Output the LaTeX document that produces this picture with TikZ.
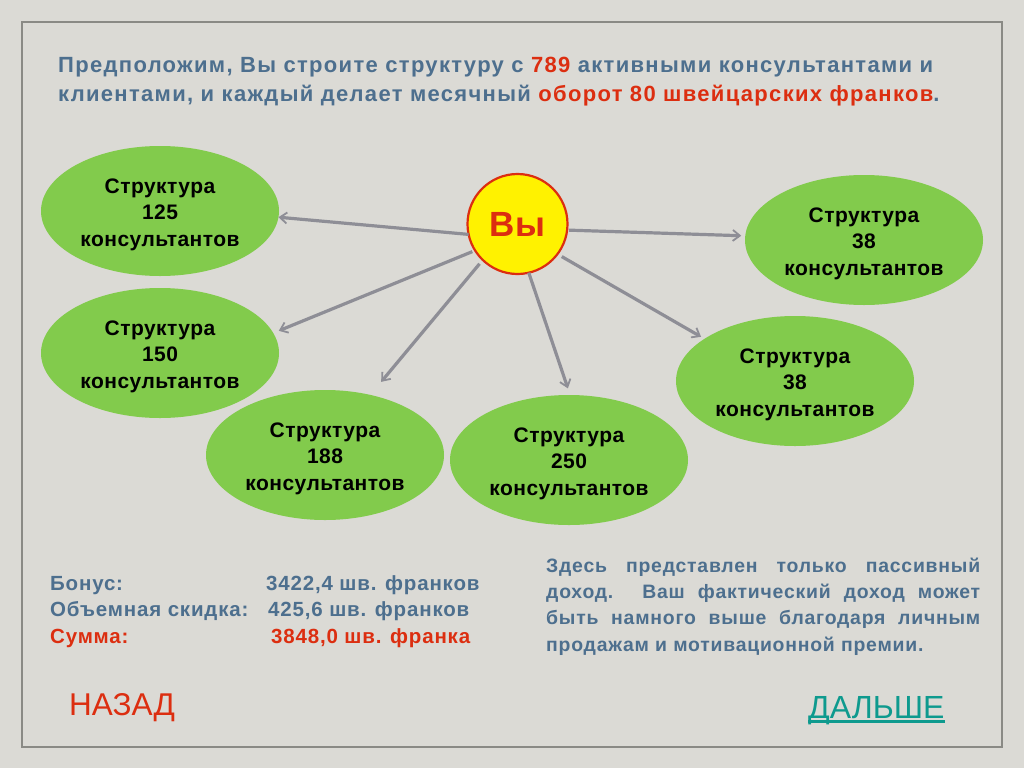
\documentclass[tikz,border=0pt]{standalone}
\usepackage{fontspec}
\setmainfont{Liberation Sans}
\newfontfamily\spaced[LetterSpace=6]{Liberation Sans}
\newfontfamily\spacedinfo[LetterSpace=4]{Liberation Sans}
\newfontfamily\spacedblob[LetterSpace=2.2]{Liberation Sans}
\usetikzlibrary{arrows.meta,shapes.geometric}
\definecolor{bgc}{HTML}{DBDAD5}
\definecolor{framec}{HTML}{8A8A85}
\definecolor{bluec}{HTML}{4D6F8E}
\definecolor{redc}{HTML}{DC2E10}
\definecolor{greenc}{HTML}{82CB4C}
\definecolor{arrowc}{HTML}{8E8E96}
\definecolor{tealc}{HTML}{0E9A8E}
\newcommand{\stext}[1]{\raisebox{-3.5pt}[\height][\depth]{\begin{tabular}{@{}c@{}}Структура\\#1\\консультантов\end{tabular}}}
\newcommand{\ulnav}[1]{\setbox0=\hbox{#1}\rlap{\rule[-4.5pt]{\wd0}{2.2pt}}\box0}
\tikzset{
  x=1pt,y=-1pt,
  blob/.style={ellipse,fill=greenc,minimum width=238pt,minimum height=130pt,inner sep=0pt,outer sep=0pt,text=black,font=\fontsize{21}{26.5}\selectfont\bfseries\spacedblob},
  you/.style={circle,fill=yellow,draw=redc,line width=2.2pt,minimum size=100pt,inner sep=0pt,outer sep=0pt,text=redc,font=\fontsize{35}{40}\selectfont\bfseries},
  link/.style={draw=arrowc,line width=3.2pt,-{Straight Barb[length=7pt,width=11pt,line width=1.8pt]}},
  info/.style={anchor=base west,inner sep=0pt,text=bluec,font=\fontsize{20.5}{26}\selectfont\bfseries\spacedinfo},
  infored/.style={info,text=redc},
  nav/.style={anchor=base west,inner sep=0pt,font=\fontsize{31.5}{34}\selectfont}
}
\begin{document}
\begin{tikzpicture}
\useasboundingbox (0,0) rectangle (1024,768);
\fill[bgc] (0,0) rectangle (1024,768);
\draw[framec,line width=2.5pt] (22,22) rectangle (1002,747);
\node[anchor=base west,inner sep=0pt,text=bluec,align=left,font=\fontsize{22}{29}\selectfont\bfseries\spaced] (title) at (58,101) {Предположим, Вы строите структуру с \textcolor{redc}{789} активными консультантами и\\клиентами, и каждый делает месячный \textcolor{redc}{оборот 80 швейцарских франков}.};
\node[you] (me) at (517.5,224) {Вы};
\node[blob] (e1) at (160,211) {\stext{125}};
\node[blob] (e2) at (160,353) {\stext{150}};
\node[blob] (e3) at (325,455) {\stext{188}};
\node[blob] (e4) at (569,460) {\stext{250}};
\node[blob] (e5) at (795,381) {\stext{38}};
\node[blob] (e6) at (864,240) {\stext{38}};
\draw[link] (me.192.5) -- (e1.-3.4);
\draw[link,shorten <=3pt,shorten >=6pt] (me.212.5) -- (e2.10);
\draw[link,shorten <=5pt,shorten >=17pt] (me.226.8) -- (e3.53);
\draw[link,shorten >=7pt] (me.-77) -- (e4.89);
\draw[link,shorten <=5pt,shorten >=4pt] (me.-37.4) -- (e5.155.9);
\draw[link,shorten <=2pt,shorten >=4pt] (me.-7.6) -- (e6.178.6);
\node[info] (b1) at (50,590) {Бонус:};
\node[info] (b2) at (266,590) {3422,4 шв. франков};
\node[info] (b3) at (50,616) {Объемная скидка:};
\node[info] (b4) at (268,616) {425,6 шв. франков};
\node[infored] (b5) at (50,643) {Сумма:};
\node[infored] (b6) at (271,643) {3848,0 шв. франка};
\node[anchor=base west,inner sep=0pt,text=bluec,align=left,font=\fontsize{19.4}{26.3}\selectfont\bfseries\spacedinfo] (para) at (546,651) {\makebox[434pt][s]{Здесь представлен только пассивный}\\\makebox[434pt][s]{доход. Ваш фактический доход может}\\\makebox[434pt][s]{быть намного выше благодаря личным}\\продажам и мотивационной премии.};
\node[nav,text=redc] (back) at (69,715) {НАЗАД};
\node[nav,text=tealc,font=\fontsize{32}{34}\selectfont] (next) at (808,718) {\ulnav{ДАЛЬШЕ}};
\end{tikzpicture}
\end{document}
